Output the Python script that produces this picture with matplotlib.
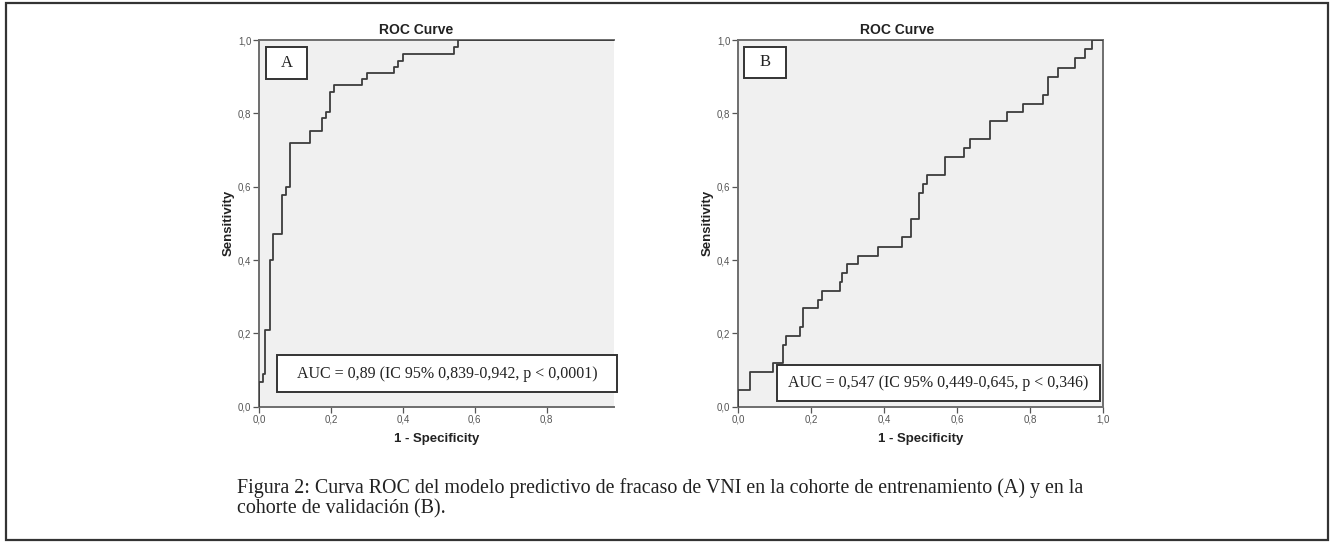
import matplotlib
matplotlib.use("Agg")
import matplotlib.pyplot as plt
from matplotlib.patches import Rectangle

# ---- data (step-curve vertices: fpr, tpr) ----
fpr_a = [0.0, 0.0, 0.012, 0.017, 0.031, 0.040, 0.063, 0.075, 0.086, 0.142, 0.174,
         0.185, 0.197, 0.208, 0.287, 0.299, 0.375, 0.387, 0.399, 0.543, 0.554, 1.0]
tpr_a = [0.0, 0.068, 0.088, 0.210, 0.400, 0.470, 0.578, 0.598, 0.718, 0.753, 0.788,
         0.805, 0.858, 0.876, 0.894, 0.910, 0.927, 0.943, 0.962, 0.980, 1.0, 1.0]

fpr_b = [0.0, 0.0, 0.033, 0.095, 0.122, 0.132, 0.170, 0.177, 0.220, 0.229, 0.279,
         0.284, 0.298, 0.330, 0.384, 0.450, 0.474, 0.497, 0.506, 0.519, 0.566, 0.618,
         0.635, 0.690, 0.737, 0.780, 0.835, 0.850, 0.878, 0.923, 0.950, 0.970, 1.0]
tpr_b = [0.0, 0.045, 0.095, 0.120, 0.168, 0.193, 0.218, 0.268, 0.291, 0.316, 0.341,
         0.364, 0.388, 0.412, 0.436, 0.462, 0.511, 0.584, 0.607, 0.632, 0.681, 0.705,
         0.730, 0.779, 0.803, 0.825, 0.850, 0.900, 0.925, 0.950, 0.975, 1.0, 1.0]

ticks = [0.0, 0.2, 0.4, 0.6, 0.8, 1.0]
tick_labels = ["0,0", "0,2", "0,4", "0,6", "0,8", "1,0"]

title = "ROC Curve"
xlabel = "1 - Specificity"
ylabel = "Sensitivity"
panel_letters = ["A", "B"]
auc_texts = ["AUC = 0,89 (IC 95% 0,839-0,942, p < 0,0001)",
             "AUC = 0,547 (IC 95% 0,449-0,645, p < 0,346)"]
caption_lines = ["Figura 2: Curva ROC del modelo predictivo de fracaso de VNI en la cohorte de entrenamiento (A) y en la",
                 "cohorte de validación (B)."]

W, H = 1330, 542
fig = plt.figure(figsize=(W / 100, H / 100), dpi=100)

def fx(px):
    return px / W

def fy(py):
    return 1 - py / H

# outer frame
fig.patches.append(Rectangle((fx(6), fy(540)), fx(1328) - fx(6), fy(3) - fy(540),
                             transform=fig.transFigure, fill=False,
                             edgecolor="#333333", linewidth=1.6))

panels = [
    dict(left=259, right=614, xmax=0.987, fpr=fpr_a, tpr=tpr_a, title_x=416, right_spine=False,
         letter_box=(266, 47, 307, 79), auc_box=(277, 355, 617, 392)),
    dict(left=738, right=1103, xmax=1.0, fpr=fpr_b, tpr=tpr_b, title_x=897, right_spine=True,
         letter_box=(744, 47, 786, 78), auc_box=(777, 365, 1100, 401)),
]
top, bottom = 40, 406.7
gray_bg = "#f0f0f0"
spine_c = "#6e6e6e"
tick_c = "#555555"

for i, p in enumerate(panels):
    ax = fig.add_axes([fx(p["left"]), fy(bottom), fx(p["right"]) - fx(p["left"]), fy(top) - fy(bottom)])
    ax.set_facecolor(gray_bg)
    ax.set_xlim(0, p["xmax"])
    ax.set_ylim(0, 1)
    ax.plot(p["fpr"], p["tpr"], drawstyle="steps-post", color="#3c3c3c", linewidth=1.3, zorder=3)
    for s in ["top", "left", "bottom"]:
        ax.spines[s].set_color(spine_c)
        ax.spines[s].set_linewidth(1.4)
    if p["right_spine"]:
        ax.spines["right"].set_color(spine_c)
        ax.spines["right"].set_linewidth(1.4)
    else:
        ax.spines["right"].set_visible(False)
    xt = [t for t in ticks if t <= p["xmax"] + 1e-9]
    ax.set_xticks(xt)
    ax.set_xticklabels(tick_labels[:len(xt)])
    ax.set_yticks(ticks)
    ax.set_yticklabels(tick_labels)
    ax.tick_params(axis="both", length=4, width=0.9, color=tick_c, labelcolor=tick_c,
                   labelsize=7, pad=1.5)
    for lab in ax.get_xticklabels() + ax.get_yticklabels():
        lab.set_family("Liberation Sans")
    ax.set_xlabel(xlabel, fontsize=9.5, fontweight="bold", family="Liberation Sans",
                  color="#222222", labelpad=6)
    ax.set_ylabel(ylabel, fontsize=9.5, fontweight="bold", family="Liberation Sans",
                  color="#222222", labelpad=2)
    fig.text(fx(p["title_x"]), fy(30), title, ha="center", va="center", fontsize=10,
             fontweight="bold", family="Liberation Sans", color="#222222")

    # letter box
    x0, y0, x1, y1 = p["letter_box"]
    fig.patches.append(Rectangle((fx(x0), fy(y1)), fx(x1) - fx(x0), fy(y0) - fy(y1),
                                 transform=fig.transFigure, facecolor="white",
                                 edgecolor="#333333", linewidth=1.4, zorder=5))
    fig.text(fx((x0 + x1) / 2), fy((y0 + y1) / 2), panel_letters[i], ha="center", va="center",
             fontsize=12, family="Liberation Serif", color="#222222", zorder=6)
    # AUC box
    x0, y0, x1, y1 = p["auc_box"]
    fig.patches.append(Rectangle((fx(x0), fy(y1)), fx(x1) - fx(x0), fy(y0) - fy(y1),
                                 transform=fig.transFigure, facecolor="white",
                                 edgecolor="#333333", linewidth=1.4, zorder=5))
    fig.text(fx((x0 + x1) / 2), fy((y0 + y1) / 2), auc_texts[i], ha="center", va="center",
             fontsize=11.5, family="Liberation Serif", color="#222222", zorder=6)

for line, ypx in zip(caption_lines, [488, 509]):
    fig.text(fx(237), fy(ypx), line, ha="left", va="center", fontsize=14.4,
             family="Liberation Serif", color="#222222")

fig.savefig("out.png", dpi=100)
